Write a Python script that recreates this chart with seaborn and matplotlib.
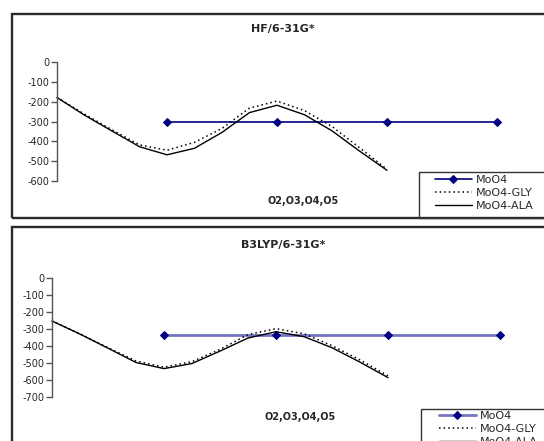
import matplotlib
matplotlib.use('Agg')
import matplotlib.pyplot as plt
from matplotlib.patches import Rectangle
import seaborn as sns

# ===== ДАННЫЕ =====
x_curve = [0, 0.25, 0.5, 0.75, 1, 1.25, 1.5, 1.75, 2, 2.25, 2.5, 2.75, 3]
x_moo4 = [1, 2, 3, 4]

hf_moo4 = [-300, -300, -300, -300]
hf_gly = [-179, -263, -342, -418, -445, -405, -335, -232, -197, -245, -325, -432, -541]
hf_ala = [-179, -268, -348, -427, -468, -435, -355, -255, -218, -266, -347, -449, -546]
hf_yticks = [0, -100, -200, -300, -400, -500, -600]

b3_moo4 = [-333, -333, -333, -333]
b3_gly = [-253, -328, -410, -488, -525, -492, -420, -333, -298, -328, -398, -482, -575]
b3_ala = [-253, -330, -413, -497, -533, -503, -430, -353, -316, -345, -410, -495, -586]
b3_yticks = [0, -100, -200, -300, -400, -500, -600, -700]

labels = ['MoO4', 'MoO4-GLY', 'MoO4-ALA']
xlabel = 'O2,O3,O4,O5'

W, H = 544, 441
sns.set_style('white')
plt.rcParams['font.family'] = ['DejaVu Sans']

fig = plt.figure(figsize=(W / 100, H / 100), dpi=100)


def px_axes(x0, y0, x1, y1):
    # пиксели (сверху вниз) -> доли фигуры
    return fig.add_axes([x0 / W, 1 - y1 / H, (x1 - x0) / W, (y1 - y0) / H])


def draw_panel(ax, moo4, gly, ala, yticks, x_step, moo4_color, moo4_lw):
    sns.lineplot(x=x_moo4, y=moo4, ax=ax, color=moo4_color, lw=moo4_lw,
                 marker='D', markersize=4.5, markerfacecolor='#000080',
                 markeredgecolor='#000080', sort=False, label=labels[0])
    sns.lineplot(x=x_curve, y=gly, ax=ax, color='black', lw=1.1,
                 linestyle=(0, (1, 2)), sort=False, label=labels[1])
    sns.lineplot(x=x_curve, y=ala, ax=ax, color='black', lw=1.0,
                 sort=False, label=labels[2])
    if ax.get_legend():
        ax.get_legend().remove()
    for line in ax.lines:
        line.set_clip_on(False)
    ax.set_xlim(0, x_step)
    ax.set_ylim(min(yticks), 0)
    ax.set_yticks(yticks)
    ax.set_yticklabels([str(t) for t in yticks])
    ax.set_xticks([])
    ax.set_xlabel('')
    ax.set_ylabel('')
    for s in ['top', 'right', 'bottom']:
        ax.spines[s].set_visible(False)
    ax.spines['left'].set_color('#555555')
    ax.spines['left'].set_linewidth(1.0)
    ax.tick_params(axis='y', direction='out', length=4, width=1, color='#555555',
                   pad=1.5, labelsize=7, left=True)
    ax.patch.set_alpha(0)


# ===== Панель HF =====
fig.patches.append(Rectangle((12 / W, 1 - 218 / H), 600 / W, 204 / H,
                             transform=fig.transFigure, fill=False,
                             edgecolor='#2a2a2a', lw=1.7))
ax1 = px_axes(57, 62, 530, 181)
draw_panel(ax1, hf_moo4, hf_gly, hf_ala, hf_yticks, 473 / 110, '#000080', 1.2)
fig.text(283 / W, 1 - 29 / H, 'HF/6-31G*', ha='center', va='center',
         fontsize=8, fontweight='bold')
fig.text(303 / W, 1 - 201 / H, xlabel, ha='center', va='center',
         fontsize=7, fontweight='bold')

# ===== Панель B3LYP =====
fig.patches.append(Rectangle((12 / W, 1 - 460 / H), 600 / W, 233 / H,
                             transform=fig.transFigure, fill=False,
                             edgecolor='#2a2a2a', lw=1.7))
ax2 = px_axes(52, 278, 530, 397)
draw_panel(ax2, b3_moo4, b3_gly, b3_ala, b3_yticks, 478 / 112, '#7474c2', 2.0)
fig.text(283 / W, 1 - 245 / H, 'B3LYP/6-31G*', ha='center', va='center',
         fontsize=8, fontweight='bold')
fig.text(300 / W, 1 - 417 / H, xlabel, ha='center', va='center',
         fontsize=7, fontweight='bold')

# ===== Легенды (нижняя обрезана краем, как в оригинале) =====
for ax, box_x, box_y, box_h, anchor in [
    (ax1, 419, 172, 46, (435, 175)),
    (ax2, 421, 409, 60, (439, 411)),
]:
    fig.patches.append(Rectangle((box_x / W, 1 - (box_y + box_h) / H), 200 / W, box_h / H,
                                 transform=fig.transFigure, fill=False,
                                 edgecolor='#333333', lw=1.0))
    handles, labs = ax.get_legend_handles_labels()
    fig.legend(handles, labs, loc='upper left',
               bbox_to_anchor=(anchor[0] / W, 1 - anchor[1] / H),
               frameon=False, fontsize=8, borderpad=0, borderaxespad=0,
               handlelength=3.3, handletextpad=0.35, labelspacing=0.25)

fig.savefig('out.png', dpi=100)
plt.close(fig)
